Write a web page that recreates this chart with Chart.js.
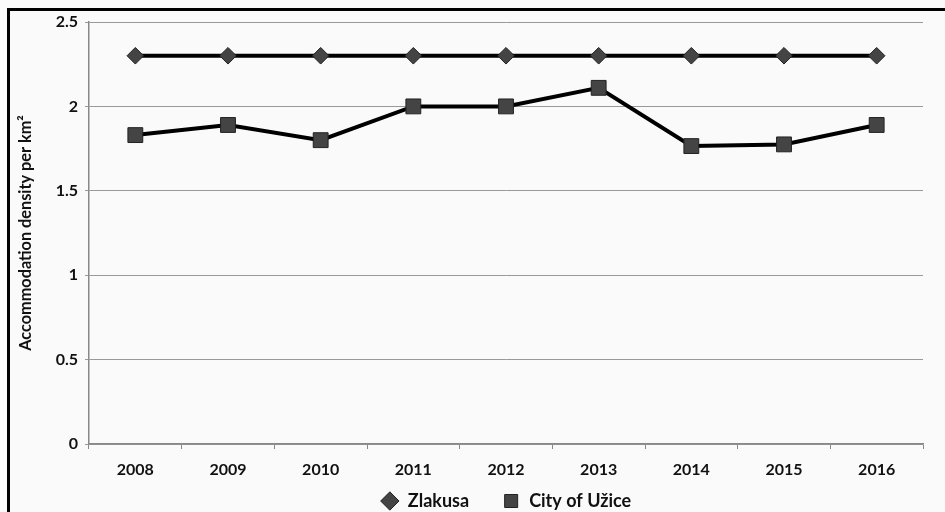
<!DOCTYPE html>
<html>
<head>
<meta charset="utf-8">
<script src="https://cdn.jsdelivr.net/npm/chart.js@4/dist/chart.umd.min.js"></script>
<style>
  html, body { margin: 0; padding: 0; background: #fff; }
  #wrap { width: 945px; height: 512px; }
</style>
</head>
<body>
<div id="wrap"><canvas id="chart" width="945" height="512"></canvas></div>
<script>
// data
var years = ['2008', '2009', '2010', '2011', '2012', '2013', '2014', '2015', '2016'];
var zlakusa = [2.3, 2.3, 2.3, 2.3, 2.3, 2.3, 2.3, 2.3, 2.3];
var uzice = [1.83, 1.89, 1.80, 2.0, 2.0, 2.11, 1.765, 1.775, 1.89];
var yTicks = [0, 0.5, 1, 1.5, 2, 2.5];

var FONT = 'Lato, "Open Sans", sans-serif';

// background + frame like the scanned figure
var framePlugin = {
	id: 'frame',
	beforeDraw: function(chart) {
		var ctx = chart.ctx;
		ctx.save();
		ctx.fillStyle = '#fafafa';
		ctx.fillRect(0, 0, chart.width, chart.height);
		ctx.fillStyle = '#000';
		ctx.fillRect(7, 8, 3, chart.height - 8);
		ctx.fillRect(7, 8, chart.width - 7, 3);
		ctx.restore();
	}
};

// legend sits centred under the plot area, a bit lower than chart.js puts it
var legendShift = {
	id: 'legendShift',
	afterLayout: function(chart) {
		var lg = chart.legend;
		var shift = (chart.chartArea.left + chart.chartArea.right) / 2 - (lg.left + lg.right) / 2;
		lg.left += shift;
		lg.right += shift;
		lg.top = 459;
		lg.bottom = lg.top + lg.height;
	}
};

var chart = new Chart(document.getElementById('chart'), {
	type: 'line',
	data: {
		labels: years,
		datasets: [
			{
				label: 'Zlakusa',
				data: zlakusa,
				borderColor: '#000',
				borderWidth: 4,
				pointStyle: 'rectRot',
				pointRadius: 8.3,
				pointBackgroundColor: '#444',
				pointBorderColor: '#222',
				pointBorderWidth: 1,
				tension: 0
			},
			{
				label: 'City of Užice',
				data: uzice,
				borderColor: '#000',
				borderWidth: 4,
				pointStyle: 'rect',
				pointRadius: 10.5,
				pointBackgroundColor: '#444',
				pointBorderColor: '#222',
				pointBorderWidth: 1,
				tension: 0
			}
		]
	},
	options: {
		responsive: false,
		animation: false,
		layout: { padding: { left: 9, right: 22, top: 22, bottom: -29 } },
		plugins: {
			tooltip: { enabled: false },
			legend: {
				position: 'bottom',
				labels: {
					usePointStyle: true,
					color: '#111',
					font: { family: FONT, size: 18, weight: 'bold' },
					padding: 33,
					boxHeight: 13
				}
			}
		},
		scales: {
			x: {
				offset: true,
				grid: { offset: true, drawOnChartArea: false, drawTicks: true, tickLength: 5, color: '#888' },
				border: { display: true, color: '#888', width: 1.5 },
				ticks: { color: '#111', padding: 11, font: { family: FONT, size: 16, weight: 'bold' } },
				afterFit: function(scale) { scale.height = 36; }
			},
			y: {
				min: 0,
				max: 2.5,
				afterBuildTicks: function(scale) {
					scale.ticks = yTicks.map(function(v) { return { value: v }; });
				},
				grid: { color: '#999', tickLength: 4, lineWidth: 1 },
				border: { display: true, color: '#888', width: 1.5 },
				ticks: {
					color: '#111',
					padding: 7,
					font: { family: FONT, size: 16, weight: 'bold' },
					callback: function(v) { return String(v); }
				},
				title: {
					display: true,
					text: 'Accommodation density per km²',
					color: '#111',
					padding: { top: 7, bottom: 0 },
					font: { family: FONT, size: 16.3, weight: 'bold' }
				},
				afterFit: function(scale) { scale.width = 80; }
			}
		}
	},
	plugins: [framePlugin, legendShift]
});
</script>
</body>
</html>
